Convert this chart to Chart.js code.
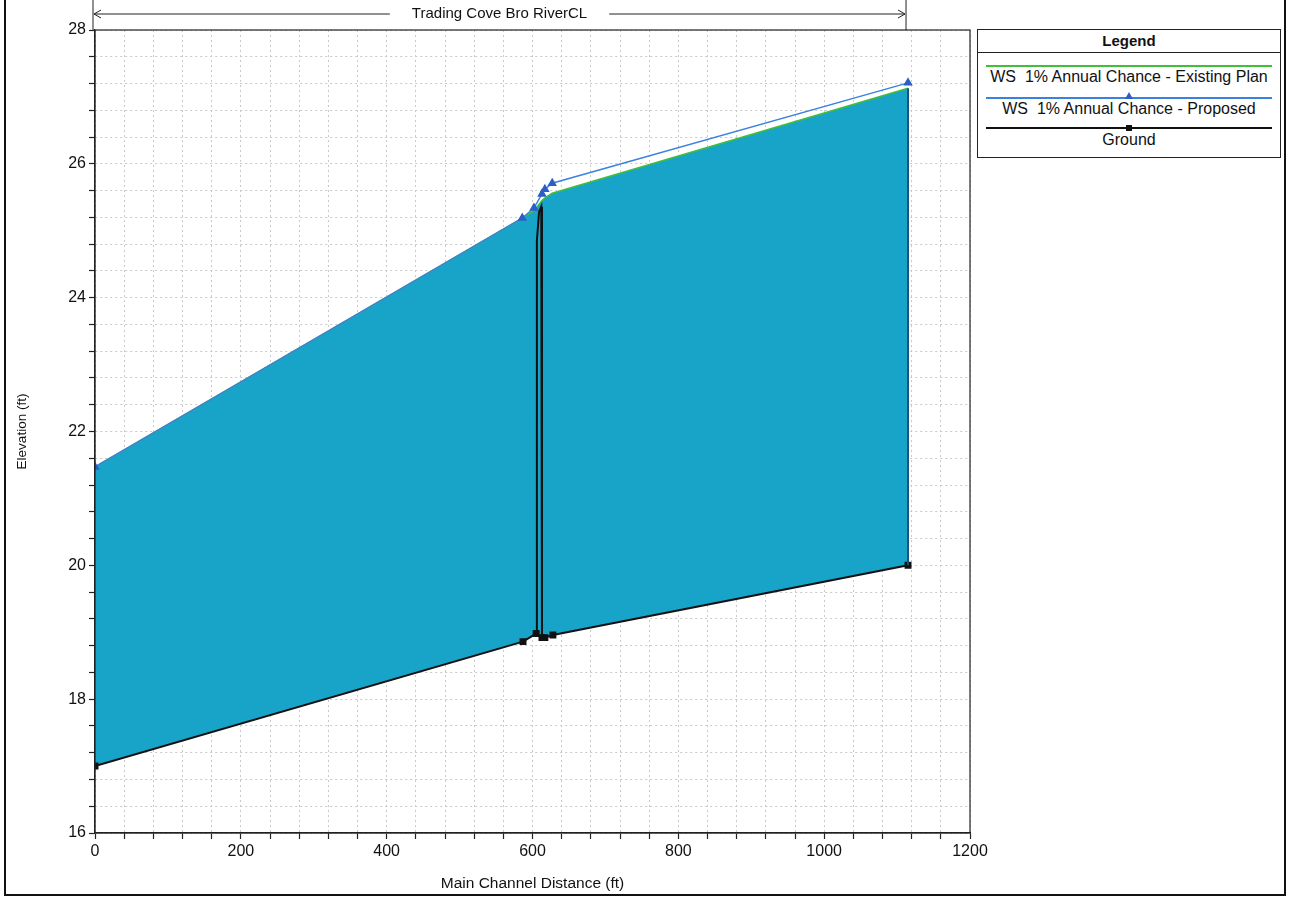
<!DOCTYPE html>
<html>
<head>
<meta charset="utf-8">
<title>Trading Cove Bro RiverCL</title>
<script src="https://cdn.jsdelivr.net/npm/chart.js@4.4.1/dist/chart.umd.min.js"></script>
<style>
  body { margin: 0; background: #fff; font-family: "Liberation Sans", Arial, sans-serif; }
  #page { position: relative; width: 1289px; height: 898px; overflow: hidden; }
  #frame { position: absolute; left: 4px; right: 3px; top: -4px; bottom: 2px;
           border-left: 2px solid #111; border-right: 2px solid #111; border-bottom: 2px solid #111; }
  #wrap { position: absolute; left: 0; top: 0; width: 1000px; height: 898px; }
  #legend { position: absolute; left: 977px; top: 29px; width: 302px; height: 127px;
            border: 1.5px solid #222; background: #fff; }
  #legend .head { height: 22px; line-height: 22px; text-align: center; font-weight: bold;
                  font-size: 15px; border-bottom: 1.5px solid #222; color: #111; }
  #legend .sample { position: absolute; left: 8px; right: 8px; height: 1.5px; }
  #legend .mark { position: absolute; left: 50%; }
  #legend .txt { position: absolute; left: 0; right: 0; text-align: center; white-space: pre;
                 font-size: 16px; line-height: 18px; color: #111; }
</style>
</head>
<body>
<div id="page">
  <div id="frame"></div>
  <div id="wrap"><canvas id="profile"></canvas></div>
  <div id="legend"><div class="head">Legend</div></div>
</div>
<script>
// reach
const reachName = 'Trading Cove Bro RiverCL';
const reachStart = 0;
const reachEnd = 1115;

// water surface profiles
const wsStation = [0, 586, 602, 613, 617, 627, 1115];
const wsExisting = [21.47, 25.19, 25.30, 25.45, 25.49, 25.56, 27.13];
const wsProposed = [21.47, 25.19, 25.34, 25.55, 25.62, 25.71, 27.21];

// ground line, bridge deck included (marker 0 = deck point)
const groundStation = [0, 587, 605, 606, 609, 612, 613, 617, 628, 1115];
const groundElev = [17.0, 18.86, 18.98, 24.85, 25.28, 25.36, 18.92, 18.92, 18.96, 20.0];
const groundMarker = [1, 1, 1, 0, 0, 0, 1, 1, 1, 1];

// axes
const xTickStep = 40;
const xLabelStep = 200;
const yTickStep = 0.4;
const yLabelStep = 2;

const seriesNames = ['WS  1% Annual Chance - Existing Plan', 'WS  1% Annual Chance - Proposed', 'Ground'];
const seriesColors = ['#3fbf3a', '#3b82de', '#111111'];
const waterFill = '#17a4c8';

const pts = (xs, ys) => xs.map((x, i) => ({ x: x, y: ys[i] }));

// legend box: sample line, then name under it
const legendEl = document.getElementById('legend');
const rowLineTop = [35, 67, 97];
const rowTextTop = [38, 70, 101];
seriesNames.forEach((name, i) => {
  const line = document.createElement('div');
  line.className = 'sample';
  line.style.top = rowLineTop[i] + 'px';
  line.style.background = seriesColors[i];
  legendEl.appendChild(line);
  if (i === 1) {
    const m = document.createElement('div');
    m.className = 'mark';
    m.style.cssText = 'margin-left:-4px;width:0;height:0;border-left:4px solid transparent;border-right:4px solid transparent;border-bottom:7px solid #2c5fc4;';
    m.style.top = (rowLineTop[i] - 5) + 'px';
    legendEl.appendChild(m);
  } else if (i === 2) {
    const m = document.createElement('div');
    m.className = 'mark';
    m.style.cssText = 'margin-left:-3px;width:6px;height:6px;background:#111;';
    m.style.top = (rowLineTop[i] - 2) + 'px';
    legendEl.appendChild(m);
  }
  const t = document.createElement('div');
  t.className = 'txt';
  t.style.top = rowTextTop[i] + 'px';
  t.textContent = name;
  legendEl.appendChild(t);
});

// box around plot, reach arrow on top, water inside the bridge opening and at the end
const profileExtras = {
  id: 'profileExtras',
  beforeDatasetsDraw(chart) {
    const { ctx, scales } = chart;
    const xs = scales.x, ys = scales.y;
    // the filler leaves the bridge opening empty, fill it from the deck points
    const first = groundMarker.indexOf(0) - 1;
    const last = groundMarker.lastIndexOf(0) + 1;
    ctx.save();
    ctx.fillStyle = waterFill;
    ctx.beginPath();
    for (let i = first; i <= last; i++) {
      const px = xs.getPixelForValue(groundStation[i]);
      const py = ys.getPixelForValue(groundElev[i]);
      if (i === first) ctx.moveTo(px, py); else ctx.lineTo(px, py);
    }
    ctx.closePath();
    ctx.fill();
    ctx.restore();
  },
  afterDatasetsDraw(chart) {
    const { ctx, scales } = chart;
    const xs = scales.x, ys = scales.y;
    ctx.save();
    const xe = xs.getPixelForValue(groundStation[groundStation.length - 1]);
    ctx.strokeStyle = '#1d4f80';
    ctx.lineWidth = 2;
    ctx.beginPath();
    ctx.moveTo(xe, ys.getPixelForValue(groundElev[groundElev.length - 1]));
    ctx.lineTo(xe, ys.getPixelForValue(wsExisting[wsExisting.length - 1]));
    ctx.stroke();
    ctx.restore();
  },
  afterDraw(chart) {
    const { ctx, chartArea, scales } = chart;
    const xs = scales.x;
    ctx.save();
    ctx.strokeStyle = '#222';
    ctx.lineWidth = 1.2;
    ctx.strokeRect(chartArea.left, chartArea.top, chartArea.right - chartArea.left, chartArea.bottom - chartArea.top);

    const x0 = xs.getPixelForValue(reachStart) - 2;
    const x1 = xs.getPixelForValue(reachEnd) - 2;
    const yA = 14;
    ctx.lineWidth = 1;
    ctx.beginPath();
    ctx.moveTo(x0, 0); ctx.lineTo(x0, chartArea.top);
    ctx.moveTo(x1, 0); ctx.lineTo(x1, chartArea.top);
    ctx.stroke();

    ctx.font = '15px "Liberation Sans", Arial, sans-serif';
    ctx.textAlign = 'center';
    ctx.textBaseline = 'middle';
    ctx.fillStyle = '#111';
    const xm = (x0 + x1) / 2;
    const tw = ctx.measureText(reachName).width;
    ctx.fillText(reachName, xm, yA);
    ctx.beginPath();
    ctx.moveTo(x0 + 1, yA); ctx.lineTo(xm - tw / 2 - 22, yA);
    ctx.moveTo(xm + tw / 2 + 22, yA); ctx.lineTo(x1 - 1, yA);
    // arrow heads
    ctx.moveTo(x0 + 8, yA - 4); ctx.lineTo(x0 + 1, yA); ctx.lineTo(x0 + 8, yA + 4);
    ctx.moveTo(x1 - 8, yA - 4); ctx.lineTo(x1 - 1, yA); ctx.lineTo(x1 - 8, yA + 4);
    ctx.stroke();
    ctx.restore();
  }
};

const near = (v, step) => Math.abs(v / step - Math.round(v / step)) < 1e-6;
const tickFont = { family: '"Liberation Sans", Arial, sans-serif', size: 16 };

new Chart(document.getElementById('profile'), {
  type: 'line',
  data: {
    datasets: [
      {
        label: seriesNames[0],
        data: pts(wsStation, wsExisting),
        borderColor: seriesColors[0],
        borderWidth: 1.5,
        pointRadius: 0,
        backgroundColor: waterFill,
        fill: 2,
        order: 3
      },
      {
        label: seriesNames[1],
        data: pts(wsStation, wsProposed),
        borderColor: seriesColors[1],
        borderWidth: 1.5,
        pointStyle: 'triangle',
        pointRadius: 4,
        pointBackgroundColor: '#2c5fc4',
        pointBorderColor: '#2c5fc4',
        fill: false,
        order: 2
      },
      {
        label: seriesNames[2],
        data: pts(groundStation, groundElev),
        borderColor: seriesColors[2],
        borderWidth: 2,
        pointStyle: 'rect',
        pointRadius: groundMarker.map(m => m ? 3.5 : 0),
        pointBackgroundColor: '#111',
        pointBorderColor: '#111',
        fill: false,
        order: 1
      }
    ]
  },
  options: {
    responsive: true,
    maintainAspectRatio: false,
    animation: false,
    layout: { padding: { left: 0, right: 30, top: 30, bottom: 0 } },
    plugins: {
      legend: { display: false },
      tooltip: { enabled: false },
      filler: { drawTime: 'beforeDatasetsDraw' }
    },
    elements: { line: { tension: 0 } },
    scales: {
      x: {
        type: 'linear',
        min: 0,
        max: 1200,
        afterFit: s => { s.height = 65; },
        ticks: {
          stepSize: xTickStep,
          autoSkip: false,
          maxRotation: 0,
          padding: 3,
          color: '#111',
          font: tickFont,
          callback: v => near(v, xLabelStep) ? String(Math.round(v)) : ''
        },
        grid: { color: '#c9c9c9', tickColor: '#222', tickLength: 6, tickWidth: 1.2 },
        border: { display: true, color: '#222', width: 1.2, dash: [2, 3] },
        title: {
          display: true,
          text: 'Main Channel Distance (ft)',
          color: '#111',
          font: { family: '"Liberation Sans", Arial, sans-serif', size: 15.5 },
          padding: { top: 0, bottom: 5 }
        }
      },
      y: {
        type: 'linear',
        min: 16,
        max: 28,
        afterFit: s => { s.width = 95; },
        ticks: {
          stepSize: yTickStep,
          autoSkip: false,
          padding: 3,
          color: '#111',
          font: tickFont,
          callback: v => near(v, yLabelStep) ? String(Math.round(v)) : ''
        },
        grid: { color: '#c9c9c9', tickColor: '#222', tickLength: 6, tickWidth: 1.2 },
        border: { display: true, color: '#222', width: 1.2, dash: [2, 3] },
        title: {
          display: true,
          text: 'Elevation (ft)',
          color: '#111',
          font: { family: '"Liberation Sans", Arial, sans-serif', size: 13.5 },
          padding: { top: 14, bottom: 0 }
        }
      }
    }
  },
  plugins: [profileExtras]
});
</script>
</body>
</html>
